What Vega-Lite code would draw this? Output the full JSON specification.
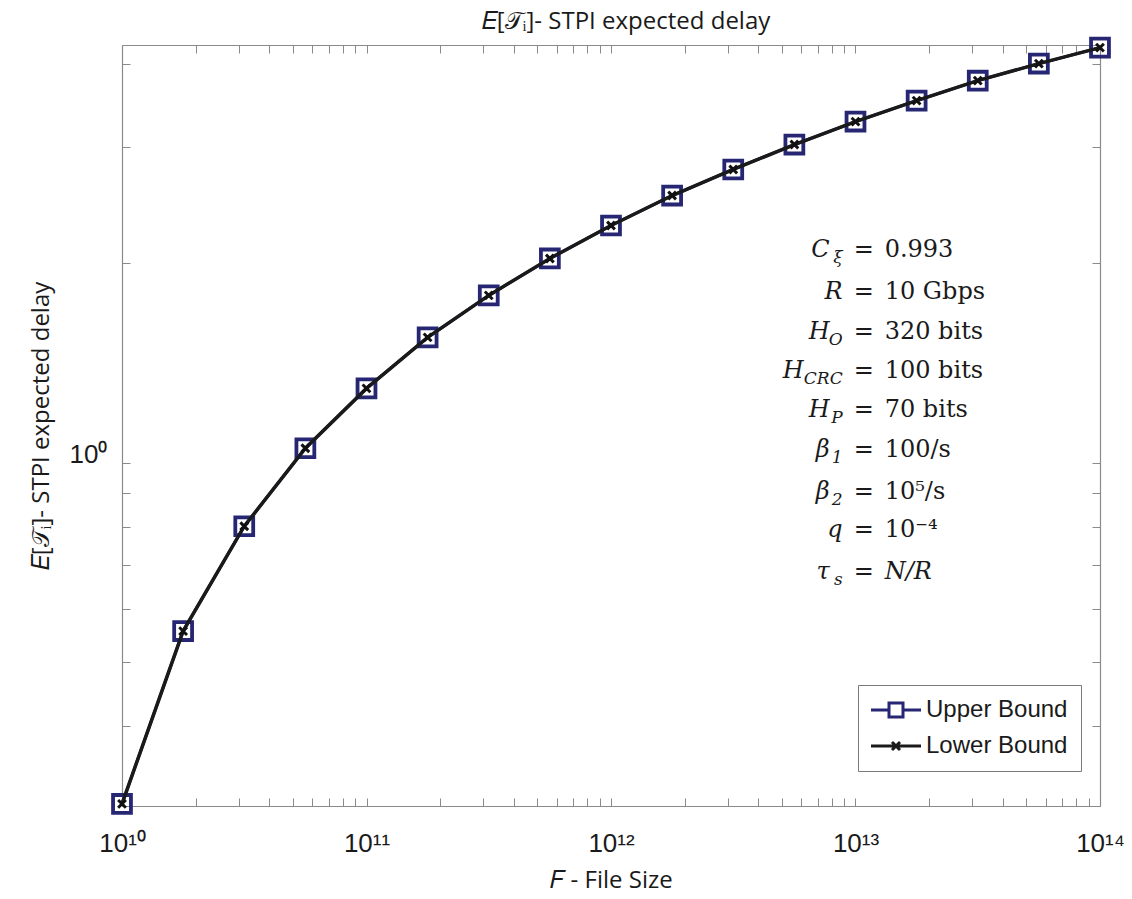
{
  "$schema": "https://vega.github.io/schema/vega-lite/v6.json",
  "width": 978,
  "height": 761,
  "autosize": {"type": "none"},
  "padding": {"left": 122, "top": 45, "right": 32, "bottom": 93},
  "background": "white",
  "config": {"view": {"stroke": null}, "font": "Liberation Sans"},
  "title": {"text": "𝐸[𝒯ᵢ]- STPI expected delay", "font": "Open Sans", "fontSize": 24, "fontWeight": "normal", "color": "#1a1a1a", "anchor": "middle", "offset": -3, "dx": 15},
  "datasets": {
    "curve": [
      {"F": 10000000000, "delay": 0.3052, "bound": "Upper Bound"},
      {"F": 17782794100, "delay": 0.5566, "bound": "Upper Bound"},
      {"F": 31622776602, "delay": 0.8014, "bound": "Upper Bound"},
      {"F": 56234132519, "delay": 1.051, "bound": "Upper Bound"},
      {"F": 100000000000, "delay": 1.294, "bound": "Upper Bound"},
      {"F": 177827941004, "delay": 1.545, "bound": "Upper Bound"},
      {"F": 316227766017, "delay": 1.788, "bound": "Upper Bound"},
      {"F": 562341325190, "delay": 2.033, "bound": "Upper Bound"},
      {"F": 1000000000000, "delay": 2.28, "bound": "Upper Bound"},
      {"F": 1778279410039, "delay": 2.53, "bound": "Upper Bound"},
      {"F": 3162277660168, "delay": 2.77, "bound": "Upper Bound"},
      {"F": 5623413251903, "delay": 3.021, "bound": "Upper Bound"},
      {"F": 10000000000000, "delay": 3.272, "bound": "Upper Bound"},
      {"F": 17782794100389, "delay": 3.519, "bound": "Upper Bound"},
      {"F": 31622776601684, "delay": 3.772, "bound": "Upper Bound"},
      {"F": 56234132519035, "delay": 4.003, "bound": "Upper Bound"},
      {"F": 100000000000000, "delay": 4.231, "bound": "Upper Bound"},
      {"F": 10000000000, "delay": 0.3052, "bound": "Lower Bound"},
      {"F": 17782794100, "delay": 0.5566, "bound": "Lower Bound"},
      {"F": 31622776602, "delay": 0.8014, "bound": "Lower Bound"},
      {"F": 56234132519, "delay": 1.051, "bound": "Lower Bound"},
      {"F": 100000000000, "delay": 1.294, "bound": "Lower Bound"},
      {"F": 177827941004, "delay": 1.545, "bound": "Lower Bound"},
      {"F": 316227766017, "delay": 1.788, "bound": "Lower Bound"},
      {"F": 562341325190, "delay": 2.033, "bound": "Lower Bound"},
      {"F": 1000000000000, "delay": 2.28, "bound": "Lower Bound"},
      {"F": 1778279410039, "delay": 2.53, "bound": "Lower Bound"},
      {"F": 3162277660168, "delay": 2.77, "bound": "Lower Bound"},
      {"F": 5623413251903, "delay": 3.021, "bound": "Lower Bound"},
      {"F": 10000000000000, "delay": 3.272, "bound": "Lower Bound"},
      {"F": 17782794100389, "delay": 3.519, "bound": "Lower Bound"},
      {"F": 31622776601684, "delay": 3.772, "bound": "Lower Bound"},
      {"F": 56234132519035, "delay": 4.003, "bound": "Lower Bound"},
      {"F": 100000000000000, "delay": 4.231, "bound": "Lower Bound"}
    ],
    "notes": [
      {"i": 1, "sym": "C", "sub": "ξ", "rhs": "0.993", "y": 2.04},
      {"i": 2, "sym": "R", "sub": "", "rhs": "10 Gbps", "y": 1.763},
      {"i": 3, "sym": "H", "sub": "O", "rhs": "320 bits", "y": 1.535},
      {"i": 4, "sym": "H", "sub": "CRC", "rhs": "100 bits", "y": 1.34},
      {"i": 5, "sym": "H", "sub": "P", "rhs": "70 bits", "y": 1.17},
      {"i": 6, "sym": "β", "sub": "1", "rhs": "100/s", "y": 1.019},
      {"i": 7, "sym": "β", "sub": "2", "rhs": "10⁵/s", "y": 0.88},
      {"i": 8, "sym": "q", "sub": "", "rhs": "10⁻⁴", "y": 0.772},
      {"i": 9, "sym": "τ", "sub": "s", "rhs": "N/R", "y": 0.667}
    ]
  },
  "layer": [
    {
      "data": {"name": "curve"},
      "transform": [{"filter": "datum.bound === 'Upper Bound'"}],
      "mark": {"type": "line", "strokeWidth": 3},
      "encoding": {
        "x": {"field": "F", "type": "quantitative",
          "scale": {"type": "log", "domain": [10000000000, 100000000000000], "nice": false},
          "axis": {"orient": "bottom", "grid": false,
            "values": [10000000000,20000000000,30000000000,40000000000,50000000000,60000000000,70000000000,80000000000,90000000000,100000000000,200000000000,300000000000,400000000000,500000000000,600000000000,700000000000,800000000000,900000000000,1000000000000,2000000000000,3000000000000,4000000000000,5000000000000,6000000000000,7000000000000,8000000000000,9000000000000,10000000000000,20000000000000,30000000000000,40000000000000,50000000000000,60000000000000,70000000000000,80000000000000,90000000000000,100000000000000],
            "labelExpr": "datum.value == 10000000000 ? '10¹⁰' : datum.value == 100000000000 ? '10¹¹' : datum.value == 1000000000000 ? '10¹²' : datum.value == 10000000000000 ? '10¹³' : datum.value == 100000000000000 ? '10¹⁴' : ''",
            "labelOverlap": false, "labelFlush": false, "labelBound": false,
            "labelFont": "Liberation Sans", "labelFontSize": 26, "labelColor": "#1a1a1a",
            "labelBaseline": "alphabetic", "labelPadding": 53,
            "tickSize": -8, "tickColor": "#8a8a8a", "tickWidth": 1,
            "domainColor": "#8a8a8a", "domainWidth": 1.2,
            "title": "𝐹 - File Size", "titleFont": "Open Sans", "titleFontSize": 24, "titleFontWeight": "normal", "titleColor": "#1a1a1a",
            "titleY": 81, "titleBaseline": "alphabetic"}},
        "y": {"field": "delay", "type": "quantitative",
          "scale": {"type": "log", "domain": [0.303, 4.27], "nice": false},
          "axis": {"orient": "left", "grid": false,
            "values": [0.4,0.5,0.6,0.7,0.8,0.9,1,2,3,4],
            "labelExpr": "datum.value == 1 ? '10⁰' : ''",
            "labelOverlap": false, "labelFlush": false, "labelBound": false,
            "labelFont": "Liberation Sans", "labelFontSize": 26, "labelColor": "#1a1a1a",
            "labelBaseline": "alphabetic", "labelPadding": 23,
            "tickSize": -8, "tickColor": "#8a8a8a", "tickWidth": 1,
            "domainColor": "#8a8a8a", "domainWidth": 1.2,
            "title": "𝐸[𝒯ᵢ]- STPI expected delay", "titleFont": "Open Sans", "titleFontSize": 24, "titleFontWeight": "normal", "titleColor": "#1a1a1a",
            "titleX": -74, "titleBaseline": "alphabetic"}},
        "color": {"field": "bound", "type": "nominal",
          "scale": {"domain": ["Upper Bound", "Lower Bound"], "range": ["#262673", "#1a1a1a"]},
          "legend": {"orient": "none", "legendX": 736, "legendY": 640, "title": null,
            "fillColor": "white", "strokeColor": "#7a7a7a", "padding": 13,
            "symbolSize": 400, "symbolStrokeWidth": 3, "symbolOffset": 13, "labelOffset": 18,
            "labelFont": "Liberation Sans", "labelFontSize": 24, "labelColor": "#1a1a1a", "rowPadding": 11,
            "encode": {"symbols": {"update": {
              "shape": {"signal": "datum.value === 'Upper Bound' ? 'M-2.5,0H-0.7M0.7,0H2.5M-0.7,-0.7H0.7V0.7H-0.7Z' : 'M-2.5,0H2.5M-0.4,-0.4L0.4,0.4M-0.4,0.4L0.4,-0.4'"},
              "fill": {"value": "transparent"},
              "strokeWidth": {"value": 3}}}}}}
      }
    },
    {
      "data": {"name": "curve"},
      "transform": [{"filter": "datum.bound === 'Upper Bound'"}],
      "mark": {"type": "point", "shape": "square", "filled": false, "size": 320, "strokeWidth": 3.8, "color": "#262673", "opacity": 1},
      "encoding": {
        "x": {"field": "F", "type": "quantitative",
          "axis": {"orient": "top", "grid": false, "labels": false, "title": null,
            "values": [10000000000,20000000000,30000000000,40000000000,50000000000,60000000000,70000000000,80000000000,90000000000,100000000000,200000000000,300000000000,400000000000,500000000000,600000000000,700000000000,800000000000,900000000000,1000000000000,2000000000000,3000000000000,4000000000000,5000000000000,6000000000000,7000000000000,8000000000000,9000000000000,10000000000000,20000000000000,30000000000000,40000000000000,50000000000000,60000000000000,70000000000000,80000000000000,90000000000000,100000000000000],
            "tickSize": -8, "tickColor": "#8a8a8a", "tickWidth": 1, "domainColor": "#8a8a8a", "domainWidth": 1.2}},
        "y": {"field": "delay", "type": "quantitative",
          "axis": {"orient": "right", "grid": false, "labels": false, "title": null,
            "values": [0.4,0.5,0.6,0.7,0.8,0.9,1,2,3,4],
            "tickSize": -8, "tickColor": "#8a8a8a", "tickWidth": 1, "domainColor": "#8a8a8a", "domainWidth": 1.2}}
      }
    },
    {
      "data": {"name": "curve"},
      "transform": [{"filter": "datum.bound === 'Lower Bound'"}],
      "mark": {"type": "line", "strokeWidth": 3.5},
      "encoding": {
        "x": {"field": "F", "type": "quantitative", "axis": null},
        "y": {"field": "delay", "type": "quantitative", "axis": null},
        "color": {"field": "bound", "type": "nominal"}
      }
    },
    {
      "data": {"name": "curve"},
      "transform": [{"filter": "datum.bound === 'Lower Bound'"}],
      "mark": {"type": "point", "shape": "M-1,-1L1,1M-1,1L1,-1", "filled": false, "size": 60, "strokeWidth": 3, "color": "#111111", "opacity": 1},
      "encoding": {
        "x": {"field": "F", "type": "quantitative", "axis": null},
        "y": {"field": "delay", "type": "quantitative", "axis": null}
      }
    },
    {
      "data": {"name": "notes"},
      "transform": [{"filter": "length(datum.sub) == 1"}],
      "mark": {"type": "text", "align": "right", "baseline": "alphabetic", "dx": -34, "font": "DejaVu Serif", "fontStyle": "italic", "fontSize": 24, "color": "#1a1a1a"},
      "encoding": {
        "x": {"datum": 10800000000000, "type": "quantitative", "axis": null},
        "y": {"field": "y", "type": "quantitative", "axis": null},
        "text": {"field": "sym"}
      }
    },
    {
      "data": {"name": "notes"},
      "transform": [{"filter": "length(datum.sub) == 0"}],
      "mark": {"type": "text", "align": "right", "baseline": "alphabetic", "dx": -21, "font": "DejaVu Serif", "fontStyle": "italic", "fontSize": 24, "color": "#1a1a1a"},
      "encoding": {
        "x": {"datum": 10800000000000, "type": "quantitative", "axis": null},
        "y": {"field": "y", "type": "quantitative", "axis": null},
        "text": {"field": "sym"}
      }
    },
    {
      "data": {"name": "notes"},
      "transform": [{"filter": "length(datum.sub) == 3"}],
      "mark": {"type": "text", "align": "right", "baseline": "alphabetic", "dx": -60, "font": "DejaVu Serif", "fontStyle": "italic", "fontSize": 24, "color": "#1a1a1a"},
      "encoding": {
        "x": {"datum": 10800000000000, "type": "quantitative", "axis": null},
        "y": {"field": "y", "type": "quantitative", "axis": null},
        "text": {"field": "sym"}
      }
    },
    {
      "data": {"name": "notes"},
      "mark": {"type": "text", "align": "right", "baseline": "alphabetic", "dx": -21, "dy": 6, "font": "DejaVu Serif", "fontStyle": "italic", "fontSize": 17, "color": "#1a1a1a"},
      "encoding": {
        "x": {"datum": 10800000000000, "type": "quantitative", "axis": null},
        "y": {"field": "y", "type": "quantitative", "axis": null},
        "text": {"field": "sub"}
      }
    },
    {
      "data": {"name": "notes"},
      "mark": {"type": "text", "align": "center", "baseline": "alphabetic", "font": "DejaVu Serif", "fontSize": 24, "color": "#1a1a1a", "text": "="},
      "encoding": {
        "x": {"datum": 10800000000000, "type": "quantitative", "axis": null},
        "y": {"field": "y", "type": "quantitative", "axis": null}
      }
    },
    {
      "data": {"name": "notes"},
      "transform": [{"filter": "datum.i != 9"}],
      "mark": {"type": "text", "align": "left", "baseline": "alphabetic", "dx": 21, "font": "DejaVu Serif", "fontSize": 24, "color": "#1a1a1a"},
      "encoding": {
        "x": {"datum": 10800000000000, "type": "quantitative", "axis": null},
        "y": {"field": "y", "type": "quantitative", "axis": null},
        "text": {"field": "rhs"}
      }
    },
    {
      "data": {"name": "notes"},
      "transform": [{"filter": "datum.i == 9"}],
      "mark": {"type": "text", "align": "left", "baseline": "alphabetic", "dx": 21, "font": "DejaVu Serif", "fontStyle": "italic", "fontSize": 24, "color": "#1a1a1a"},
      "encoding": {
        "x": {"datum": 10800000000000, "type": "quantitative", "axis": null},
        "y": {"field": "y", "type": "quantitative", "axis": null},
        "text": {"field": "rhs"}
      }
    }
  ]
}
